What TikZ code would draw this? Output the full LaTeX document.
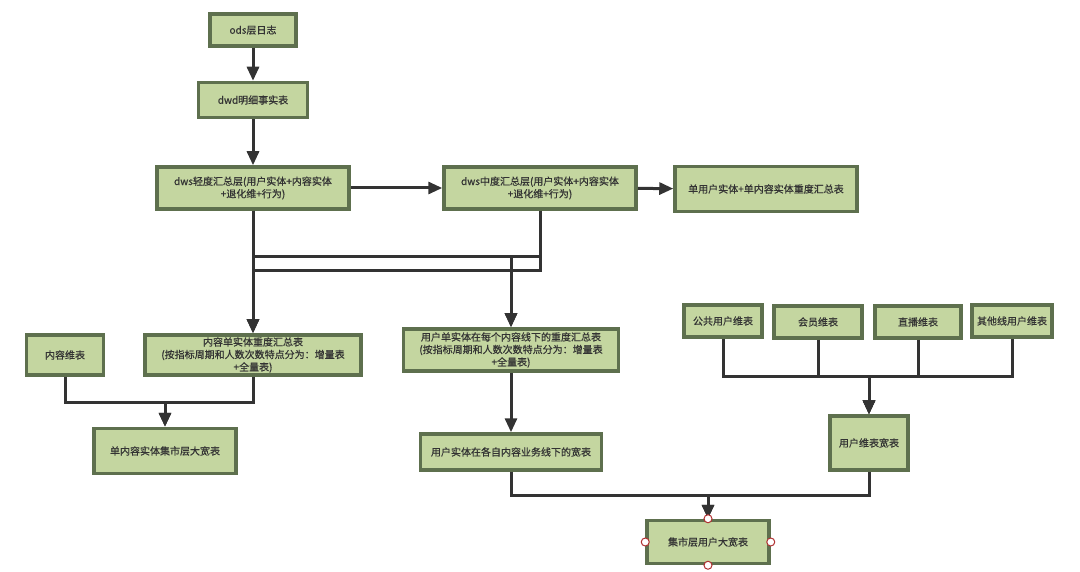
\documentclass[tikz,border=0pt]{standalone}
\usepackage{fontspec}
\setmainfont{Noto Sans CJK SC}[FakeBold=0.6]
\definecolor{boxfill}{RGB}{196, 214, 160}
\definecolor{boxline}{RGB}{94, 112, 78}
\definecolor{wire}{RGB}{51, 51, 51}
\definecolor{handle}{RGB}{176, 48, 48}
\usetikzlibrary{arrows.meta}

\begin{document}
\begin{tikzpicture}[
    x=1pt, y=-1pt,
    box/.style={draw=boxline, line width=3.5pt, fill=boxfill, text=wire,
                minimum width=#1, minimum height=32pt, inner sep=2pt,
                align=center, font=\fontsize{10}{12.5}\selectfont},
    link/.style={draw=wire, line width=3pt,
                 -{Triangle[length=14pt, width=12pt]}},
    dot/.style={draw=handle, line width=1pt, fill=white}
]
    \useasboundingbox (0,0) rectangle (1080,572);

    % Main chain
    \node[box=86] (ods) at (253,30) {ods层日志};
    \node[box=109, minimum height=35pt] (dwd) at (253,100) {dwd明细事实表};
    \node[box=192, minimum height=42pt] (light) at (253,188)
        {dws轻度汇总层(用户实体+内容实体\\+退化维+行为)};
    \node[box=192, minimum height=42pt] (medium) at (540,188)
        {dws中度汇总层(用户实体+内容实体\\+退化维+行为)};
    \node[box=182, minimum height=45pt] (single) at (766,189)
        {单用户实体+单内容实体重度汇总表};

    % Content side
    \node[box=77, minimum height=40pt] (cdim) at (65,355) {内容维表};
    \node[box=216, minimum height=40pt] (csum) at (253,355)
        {内容单实体重度汇总表\\(按指标周期和人数次数特点分为：增量表\\+全量表)};
    \node[box=142, minimum height=45pt] (cwide) at (165,451) {单内容实体集市层大宽表};

    % User side
    \node[box=215, minimum height=42pt] (usum) at (511,350)
        {用户单实体在每个内容线下的重度汇总表\\(按指标周期和人数次数特点分为：增量表\\+全量表)};
    \node[box=181, minimum height=36pt] (uwide) at (511,452) {用户实体在各自内容业务线下的宽表};

    % User dimension tables
    \node[box=78] (pub) at (723,321) {公共用户维表};
    \node[box=88] (vip) at (818,322) {会员维表};
    \node[box=86] (live) at (918,322) {直播维表};
    \node[box=80] (other) at (1012,321) {其他线用户维表};
    \node[box=78, minimum height=54pt] (udim) at (869,443) {用户维表宽表};

    % Final table
    \node[box=122, minimum height=43pt] (final) at (708,542) {集市层用户大宽表};

    % Arrows
    \draw[link] (ods) -- (dwd);
    \draw[link] (dwd) -- (light);
    \draw[link] (light) -- (medium);
    \draw[link] (medium) -- (single);

    \draw[link] (light.south) -- (csum.north);
    \draw[link] (light.south) -- (light.south |- 0,257) -| (usum.north);
    \draw[link] (medium.south) -- (medium.south |- 0,271) -| (csum.north);
    \draw[link] (medium.south) -- (medium.south |- 0,257) -| (usum.north);

    \draw[link] (cdim.south) -- (cdim.south |- 0,402) -| (cwide.north);
    \draw[link] (csum.south) -- (csum.south |- 0,402) -| (cwide.north);

    \draw[link] (usum) -- (uwide);

    \foreach \n in {pub, vip, live, other}
        \draw[link] (\n.south) -- (\n.south |- 0,376) -| (udim.north);

    \draw[link] (uwide.south) -- (uwide.south |- 0,495) -| (final.north);
    \draw[link] (udim.south) -- (udim.south |- 0,495) -| (final.north);

    % Selection handles
    \foreach \a in {north, south, east, west}
        \draw[dot] (final.\a) circle (4pt);
\end{tikzpicture}
\end{document}
